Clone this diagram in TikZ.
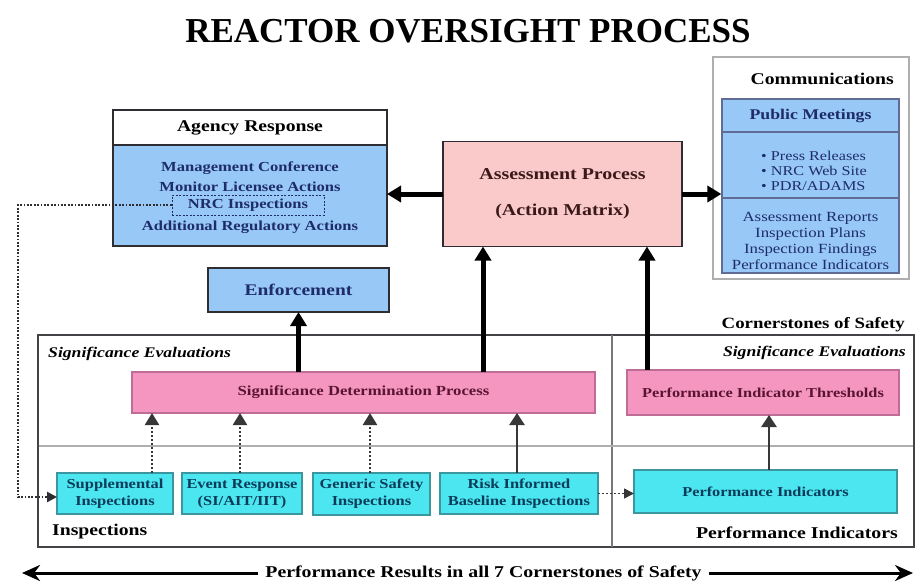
\documentclass[tikz,border=0pt]{standalone}
\usepackage{fontspec}
\setmainfont{Liberation Serif}
\newfontfamily\bx[FakeStretch=1.2]{Liberation Serif}
\usetikzlibrary{arrows.meta,calc}
\definecolor{bblue}{RGB}{152,200,245}
\definecolor{navy}{RGB}{30,45,105}
\definecolor{lpink}{RGB}{250,202,202}
\definecolor{spink}{RGB}{245,150,192}
\definecolor{spinkd}{RGB}{190,110,150}
\definecolor{stext}{RGB}{90,20,50}
\definecolor{cyanb}{RGB}{75,230,240}
\definecolor{cyand}{RGB}{60,150,160}
\definecolor{ctext}{RGB}{10,60,90}
\definecolor{bdr}{RGB}{45,45,50}
\definecolor{lgray}{RGB}{175,175,175}
\definecolor{mgray}{RGB}{120,120,120}
\definecolor{dgray}{RGB}{55,55,55}
\definecolor{atext}{RGB}{60,25,25}
\newcommand\myfs[2]{\fontsize{#1}{#2}\selectfont}
\begin{document}
\begin{tikzpicture}[x=1pt,y=-1pt,
  box/.style={draw=bdr,line width=1.5pt,inner sep=0pt,outer sep=0pt},
  bluebox/.style={box,fill=bblue},
  sdpbox/.style={draw=spinkd,line width=1.3pt,fill=spink,inner sep=0pt,outer sep=0pt,
     text=stext,font=\bx\bfseries\myfs{13.9}{17}},
  cybox/.style={draw=cyand,line width=1.5pt,fill=cyanb,inner sep=0pt,outer sep=0pt,
     text=ctext,align=center,font=\bx\bfseries\myfs{13.7}{17}},
  head/.style={font=\bx\bfseries\myfs{16.4}{20}},
  small/.style={text=navy,font=\bx\bfseries\myfs{13.8}{17}},
  lab/.style={inner sep=0pt,font=\bx\bfseries\myfs{16.4}{20}},
  itlab/.style={inner sep=0pt,font=\bx\bfseries\itshape\myfs{14.7}{18}},
  thickarr/.style={line width=5pt,-{Triangle[length=14pt,width=16pt]}},
  dsharr/.style={line width=2.2pt,draw=dgray,dash pattern=on 2.5pt off 1.5pt,
     -{Triangle[length=12pt,width=14pt]}},
  solarr/.style={line width=2.5pt,draw=dgray,-{Triangle[length=12pt,width=15pt]}},
  dotline/.style={line width=2.5pt,draw=bdr,dash pattern=on 1.8pt off 1.6pt},
  bigarr/.style={line width=3pt,-{Stealth[length=18pt,width=16pt]}}
]
\useasboundingbox[fill=white] (0,0) rectangle (916,586);

% title
\node[font=\bfseries\myfs{35}{40}] (title) at (468,31) {REACTOR OVERSIGHT PROCESS};

% agency response
\node[box,fill=white,minimum width=274pt,minimum height=35pt,head] (aghead) at (250,127.5) {Agency Response};
\node[bluebox,minimum width=274pt,minimum height=101pt] (agbody) at (250,195.5) {};
\node[small] (ag1) at (250,168) {Management Conference};
\node[small] (ag2) at (250,187) {Monitor Licensee Actions};
\node[small,draw=navy,line width=1pt,dash pattern=on 2pt off 1.5pt,minimum width=152pt,minimum height=20pt,inner sep=0pt] (nrc) at (248,205) {NRC Inspections};
\node[small] (ag4) at (250,227) {Additional Regulatory Actions};

% enforcement
\node[bluebox,minimum width=181pt,minimum height=44pt,text=navy,font=\bx\bfseries\myfs{16.2}{20}] (enf) at (298.5,290) {Enforcement};

% assessment
\node[box,fill=lpink,minimum width=239pt,minimum height=105pt,align=center,text=atext,
  font=\bx\bfseries\myfs{16.6}{36}] (assess) at (562.5,194) {Assessment Process\\(Action Matrix)};

% communications
\node[draw=lgray,line width=1.3pt,fill=white,minimum width=196pt,minimum height=222pt,inner sep=0pt] (commouter) at (811,168) {};
\node[lab,anchor=east] (commlab) at (894,79) {Communications};
\node[draw=navy!70,line width=1.3pt,fill=bblue,minimum width=177pt,minimum height=174pt,inner sep=0pt] (comminner) at (810.5,186) {};
\draw[navy!70,line width=1.3pt] (722,132) -- (899,132);
\draw[navy!70,line width=1.3pt] (722,198) -- (899,198);
\node[text=navy,font=\bx\bfseries\myfs{14.8}{18}] (pubmeet) at (810.5,115.5) {Public Meetings};
\node[text=navy,align=left,font=\bx\myfs{13.5}{15}] (bullets) at (814,171) {• Press Releases\\• NRC Web Site\\• PDR/ADAMS};
\node[text=navy,align=center,font=\bx\myfs{14}{16}] (reports) at (810.5,241) {Assessment Reports\\Inspection Plans\\Inspection Findings\\Performance Indicators};

% cornerstones frame
\node[box,draw=bdr!90,minimum width=876pt,minimum height=212pt] (cs) at (476,441) {};
\draw[mgray,line width=1.3pt] (612,335) -- (612,547);
\draw[lgray,line width=2.2pt] (39,446) -- (913,446);
\node[lab,anchor=east,font=\bx\bfseries\myfs{15.7}{19}] (cornlab) at (905,325) {Cornerstones of Safety};
\node[itlab,anchor=west] (sigev1) at (48,354) {Significance Evaluations};
\node[itlab,anchor=east] (sigev2) at (906,353) {Significance Evaluations};
\node[lab,anchor=west] (insplab) at (52,532) {Inspections};
\node[lab,anchor=east,font=\bx\bfseries\myfs{16.5}{20}] (pilab) at (898,533) {Performance Indicators};

% significance boxes
\node[sdpbox,minimum width=463pt,minimum height=41pt] (sdp) at (363.5,392.5) {Significance Determination Process};
\node[sdpbox,minimum width=272pt,minimum height=45pt,font=\bx\bfseries\myfs{13.6}{17}] (pit) at (763,392.5) {Performance Indicator Thresholds};

% inspection boxes
\node[cybox,minimum width=116pt,minimum height=41pt] (supp) at (115,493.5) {Supplemental\\Inspections};
\node[cybox,minimum width=120pt,minimum height=41pt] (event) at (242,493.5) {Event Response\\(SI/AIT/IIT)};
\node[cybox,minimum width=117pt,minimum height=42pt] (generic) at (371.5,494) {Generic Safety\\Inspections};
\node[cybox,minimum width=158pt,minimum height=41pt] (risk) at (519,493.5) {Risk Informed\\Baseline Inspections};
\node[cybox,minimum width=263pt,minimum height=43pt,font=\bx\bfseries\myfs{13.6}{17}] (pi) at (765.5,491.5) {Performance Indicators};

% thick arrows
\draw[thickarr] (assess.west) -- (assess.west -| agbody.east);
\draw[thickarr] (assess.east) -- (assess.east -| comminner.west);
\draw[thickarr] (enf.south |- sdp.north) -- (enf.south);
\draw[thickarr] ([xshift=119.5pt]sdp.north) -- ([xshift=119.5pt]sdp.north |- assess.south);
\draw[thickarr] ([xshift=-116pt]pit.north) -- ([xshift=-116pt]pit.north |- assess.south);

% inspection arrows
\draw[dsharr] ([xshift=37pt]supp.north) -- ([xshift=37pt]supp.north |- sdp.south);
\draw[dsharr] ([xshift=-2pt]event.north) -- ([xshift=-2pt]event.north |- sdp.south);
\draw[dsharr] ([xshift=-1.5pt]generic.north) -- ([xshift=-1.5pt]generic.north |- sdp.south);
\draw[solarr] ([xshift=-2pt]risk.north) -- ([xshift=-2pt]risk.north |- sdp.south);
\draw[solarr] ([xshift=3.5pt]pi.north) -- ([xshift=3.5pt]pi.north |- pit.south);

% dotted connectors
\coordinate (c2) at (18,497);
\draw[dotline,-{Triangle[length=10pt,width=10pt]}] (nrc.west) -| (c2) -- (supp.west |- c2);
\draw[line width=1.6pt,draw=dgray,dash pattern=on 2pt off 2pt,-{Triangle[length=10pt,width=10pt]}] (risk.east) -- (risk.east -| pi.west);

% bottom arrow
\node[font=\bx\bfseries\myfs{16.5}{20},fill=white,inner xsep=7pt] (perf) at (483.5,573) {Performance Results in all 7 Cornerstones of Safety};
\coordinate (bl) at (22,573);
\coordinate (br) at (913,573);
\draw[bigarr] (perf.west) -- (bl);
\draw[bigarr] (perf.east) -- (br);
\end{tikzpicture}
\end{document}
